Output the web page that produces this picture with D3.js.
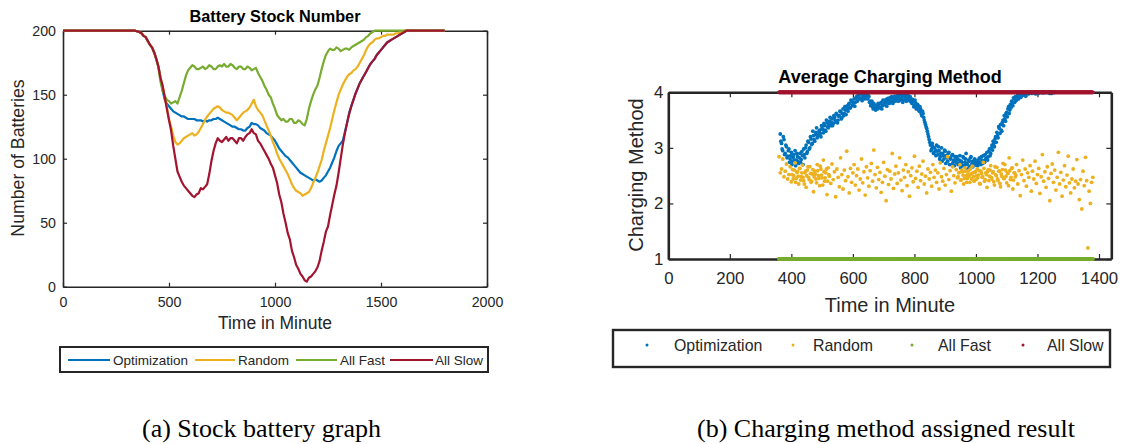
<!DOCTYPE html>
<html><head><meta charset="utf-8">
<script src="https://cdn.jsdelivr.net/npm/d3@7"></script>
<style>
body{margin:0;background:#fff}
svg{display:block}
</style>
</head><body>
<svg id="c" width="1138" height="444"></svg>
<script>
// ---------- (a) Battery stock data ----------
const stockTime = [0,340,
360,370,380,390,400,410,420,430,440,450,
460,470,480,490,500,510,520,530,540,550,
560,570,580,590,600,610,620,630,640,650,
660,670,680,690,700,710,720,730,740,750,
760,770,780,790,800,810,820,830,840,850,
860,870,880,890,900,910,920,930,940,950,
960,970,980,990,1000,1010,1020,1030,1040,1050,
1060,1070,1080,1090,1100,1110,1120,1130,1140,1150,
1160,1170,1180,1190,1200,1210,1220,1230,1240,1250,
1260,1270,1280,1290,1300,1310,1320,1330,1340,1350,
1360,1370,1380,1390,1400,1410,1420,1430,1440,1450,
1460,1470,1480,1490,1500,1510,1520,1530,1540,1550,
1560,1570,1580,1590,1600,1610,1620,1630,1640,
1800];
const stockOptimization = [200,200,
199,198,196,195,192,189,187,183,178,172,
163,153,146,143,141,139,137,136,135,134,
133,133,132,131,131,131,131,130,130,130,
129,130,129,130,130,131,131,132,131,130,
129,128,127,126,125,125,124,123,123,122,
122,124,125,128,127,127,126,124,123,122,
120,119,118,116,114,111,108,106,104,102,
101,99,97,95,93,91,89,88,87,86,
85,84,83,84,83,82,83,85,87,90,
93,97,101,106,110,112,114,121,128,136,
141,146,151,155,159,162,165,168,171,174,
176,178,181,183,185,187,189,191,192,193,
194,195,196,197,198,199,200,200,200,
200];
const stockRandom = [200,200,
199,198,196,195,192,189,187,183,178,172,
163,157,148,140,131,125,118,113,111,112,
114,116,117,118,119,120,118,119,121,124,
127,130,133,135,137,139,140,141,140,138,
137,136,136,135,134,132,130,132,134,136,
137,138,140,143,146,141,138,136,134,130,
126,122,118,113,109,104,100,97,94,91,
88,84,80,77,75,74,73,71,72,73,
74,77,81,85,89,94,99,106,112,118,
124,131,138,144,150,154,158,161,164,166,
167,169,170,172,175,178,181,185,188,190,
191,193,194,194,195,196,196,197,197,197,
197,198,198,199,199,200,200,200,200,
200];
const stockAllFast = [200,200,
199,198,196,195,192,189,187,183,178,171,
160,153,149,146,145,143,144,145,143,148,
153,159,165,169,171,173,172,170,170,171,
172,170,171,173,172,170,170,172,173,172,
174,172,172,174,173,171,170,172,172,170,
170,172,171,169,170,171,167,164,161,157,
154,150,148,143,139,134,132,130,131,129,
129,131,131,128,128,130,129,127,126,131,
139,145,150,154,157,163,170,176,181,184,
186,185,185,187,186,184,185,186,186,185,
187,188,189,190,191,192,193,195,196,198,
199,200,200,200,200,200,200,200,200,200,
200,200,200,200,200,200,200,200,200,
200];
const stockAllSlow = [200,200,
199,198,196,195,192,189,187,183,178,172,
163,157,148,139,130,122,110,100,90,86,
82,79,77,75,73,71,70,72,73,77,
76,78,80,88,98,106,112,116,114,113,
115,117,114,116,116,114,112,116,116,114,
117,119,120,123,120,119,114,112,109,106,
103,100,96,93,87,81,72,66,57,50,
42,37,28,23,17,14,10,8,5,4,
7,8,10,12,15,20,28,35,43,47,
56,64,72,79,89,100,111,120,128,135,
141,146,151,155,159,162,165,168,171,174,
176,178,181,183,185,187,189,191,192,193,
194,195,196,197,198,199,200,200,200,
200];
const stockXTicks = [0,500,1000,1500,2000];
const stockYTicks = [0,50,100,150,200];

// ---------- (b) Charging method data ----------
const seriesNames = ["Optimization","Random","All Fast","All Slow"];
const seriesColors = ["#0072BD","#EDB120","#77AC30","#A2142F"];
const optStart = 364, optStep = 4;
const methodOptimization = [
3.25,3.08,2.95,3.15,2.90,3.02,2.85,2.98,2.80,2.92,2.76,2.88,2.95,2.78,2.84,2.72,
2.90,2.79,2.86,2.98,2.82,3.05,2.93,3.10,3.00,3.16,3.08,3.22,3.12,3.28,3.18,3.24,
3.32,3.20,3.35,3.27,3.40,3.30,3.45,3.36,3.48,3.40,3.52,3.44,3.55,3.47,3.60,3.50,
3.58,3.65,3.54,3.70,3.62,3.68,3.75,3.66,3.80,3.72,3.84,3.78,3.88,3.82,3.92,3.86,
3.95,3.88,3.97,3.91,3.99,3.93,3.96,3.88,3.92,3.84,3.78,3.74,3.80,3.72,3.76,3.70,
3.78,3.73,3.82,3.76,3.85,3.79,3.87,3.81,3.84,3.90,3.82,3.88,3.85,3.93,3.86,3.91,
3.84,3.95,3.88,3.92,3.86,3.96,3.90,3.87,3.93,3.85,3.89,3.80,3.84,3.76,3.81,3.72,
3.76,3.66,3.70,3.58,3.62,3.50,3.42,3.35,3.25,3.15,3.05,2.98,3.02,2.92,2.96,3.05,
2.88,2.95,2.84,3.00,2.90,2.80,2.94,2.86,2.76,2.92,2.82,2.70,2.88,2.78,2.84,2.74,
2.80,2.72,2.86,2.76,2.68,2.82,2.74,2.90,2.70,2.78,2.66,2.84,2.75,2.72,2.80,2.69,
2.77,2.73,2.82,2.70,2.78,2.86,2.74,2.80,2.92,2.84,2.98,2.90,3.05,3.12,3.02,3.20,
3.28,3.18,3.35,3.42,3.30,3.50,3.58,3.48,3.64,3.70,3.62,3.78,3.84,3.76,3.88,3.92,
3.86,3.95,3.90,3.98,3.94,3.97,4.00,3.96,3.99,4.00,3.98,4.00,4.00,3.99,4.00,4.00,
4.00,4.00,3.99,4.00,4.00,4.00,4.00,4.00,4.00,4.00,4.00,3.98,4.00,4.00,4.00,4.00];
const opt2Start = 366, opt2Step = 4;
const methodOptimization2 = [
3.12,2.98,3.20,2.88,3.05,2.82,2.95,2.74,2.86,2.70,2.83,2.78,2.68,2.90,2.75,2.82,
2.74,2.93,2.70,2.88,3.00,2.90,3.12,2.98,3.20,3.06,3.30,3.15,3.24,3.36,3.22,3.30,
3.26,3.40,3.33,3.44,3.32,3.50,3.38,3.42,3.55,3.46,3.40,3.58,3.50,3.62,3.45,3.57,
3.66,3.52,3.62,3.58,3.74,3.60,3.70,3.78,3.72,3.86,3.76,3.82,3.75,3.90,3.84,3.96,
3.90,4.00,3.85,3.94,3.88,3.98,3.90,3.94,3.82,3.76,3.84,3.70,3.77,3.68,3.74,3.80,
3.72,3.80,3.70,3.86,3.78,3.82,3.75,3.89,3.80,3.86,3.92,3.80,3.90,3.84,3.88,3.95,
3.90,3.86,3.97,3.82,3.94,3.89,3.84,3.95,3.88,3.92,3.82,3.87,3.74,3.86,3.70,3.78,
3.68,3.74,3.62,3.66,3.55,3.46,3.38,3.30,3.20,3.10,2.95,3.08,2.90,3.00,2.86,2.94,
3.02,2.80,2.90,2.76,2.86,2.96,2.72,2.82,2.90,2.70,2.80,2.86,2.74,2.68,2.78,2.84,
2.70,2.78,2.64,2.74,2.84,2.68,2.80,2.72,2.62,2.76,2.82,2.70,2.66,2.78,2.72,2.76,
2.68,2.80,2.74,2.84,2.72,2.76,2.88,2.82,2.78,2.94,2.86,3.00,2.96,3.08,3.16,3.10,
3.22,3.38,3.26,3.32,3.46,3.40,3.52,3.62,3.56,3.74,3.68,3.72,3.80,3.90,3.82,3.86,
3.93,3.88,3.96,3.91,4.00,3.95,3.98,3.93,4.00,3.97,4.00,3.99,3.98,4.00,4.00,3.97,
4.00,3.98,4.00,4.00,4.00,3.99,4.00,4.00,4.00,4.00,4.00,4.00,3.98,4.00,4.00,4.00];
const rndStart = 360, rndStep = 4;
const methodRandom = [
2.84,2.55,2.62,2.80,2.48,2.58,2.71,2.44,2.52,2.66,2.39,2.61,2.50,2.73,2.45,2.57,
2.35,2.63,2.48,2.69,2.41,2.55,2.29,2.60,2.47,2.66,2.38,2.53,2.21,2.58,2.44,2.70,
2.50,2.32,2.62,2.46,2.78,2.40,2.55,2.16,2.64,2.49,2.36,2.71,2.43,2.57,2.12,2.62,
2.47,2.30,2.82,2.52,2.26,2.60,2.41,2.94,2.48,2.19,2.63,2.38,2.55,2.70,2.33,2.50,
2.62,2.24,2.44,2.80,2.37,2.57,2.15,2.66,2.46,2.31,2.59,2.72,2.40,2.96,2.52,2.28,
2.65,2.43,2.56,2.20,2.38,2.74,2.49,2.05,2.61,2.34,2.58,2.44,2.90,2.27,2.53,2.67,
2.36,2.55,2.82,2.42,2.23,2.60,2.47,2.70,2.32,2.57,2.13,2.50,2.64,2.39,2.85,2.45,
2.58,2.29,2.67,2.41,2.53,2.76,2.35,2.49,2.19,2.62,2.44,2.56,2.31,2.70,2.47,2.60,
2.38,2.55,2.26,2.73,2.48,2.40,2.63,2.33,2.52,2.84,2.43,2.59,2.22,2.66,2.50,2.37,
2.61,2.46,2.55,2.70,2.42,2.57,2.35,2.64,2.50,2.45,2.59,2.38,2.53,2.67,2.48,2.56,
2.43,2.62,2.51,2.36,2.58,2.47,2.74,2.40,2.55,2.29,2.61,2.49,2.68,2.44,2.57,2.33,
2.52,2.65,2.41,2.58,2.30,2.49,2.72,2.45,2.60,2.37,2.54,2.82,2.43,2.63,2.26,2.55,
2.48,2.70,2.35,2.59,2.14,2.52,2.78,2.41,2.62,2.31,2.55,2.47,2.68,2.22,2.58,2.44,
2.76,2.36,2.52,2.63,2.18,2.48,2.88,2.40,2.57,2.29,2.66,2.45,2.05,2.54,2.71,2.38,
2.60,2.24,2.47,2.92,2.35,2.56,2.13,2.42,2.68,2.30,2.51,2.85,2.37,2.19,2.44,2.62,
2.28,2.40,2.79,2.35,2.07,2.43,1.90,2.58,2.32,2.83,2.41,1.20,2.22,2.00,2.38,2.47];
const rndExtraAStart = 402, rndExtraAStep = 4;
const methodRandomExtraA = [2.52,2.44,2.60,2.38,2.56,2.49,2.63,2.42,2.55,2.47,2.35,2.58,2.50,2.66,2.43,2.54,2.40,2.61,2.48,2.53,2.37,2.59,2.45,2.67,2.51,2.33,2.57,2.46,2.62,2.40,2.52];
const rndExtraBStart = 942, rndExtraBStep = 4;
const methodRandomExtraB = [2.48,2.56,2.42,2.60,2.51,2.45,2.58,2.38,2.53,2.49,2.62,2.44,2.55,2.40,2.57,2.50,2.46,2.59,2.35,2.54,2.48,2.63,2.43,2.52,2.57,2.41,2.60,2.47,2.55,2.39,2.66,2.50,2.44,2.58,2.36,2.53,2.61,2.45,2.70,2.49,2.56,2.32,2.59,2.47,2.64,2.42,2.55,2.51];
// constant series over the active window, one point per minute
const constantWindow = [360, 1380];
const methodAllFast = 1;
const methodAllSlow = 4;
const methodXTicks = [0,200,400,600,800,1000,1200,1400];
const methodYTicks = [1,2,3,4];

const AX = "#262626";
const SANS = "'Liberation Sans',Arial,sans-serif";
const SERIF = "'Liberation Serif','Times New Roman',serif";
const svg = d3.select("#c");
svg.append("rect").attr("width",1138).attr("height",444).attr("fill","#fff");

function boxAxes(g, x, y, xt, yt, o) {
  const [x0,x1] = x.range(), [y0,y1] = y.range();
  const fmt = d3.format("d");
  const st = sel => {
    sel.attr("font-family",null).attr("font-size",null);
    sel.select(".domain").attr("stroke",AX).attr("stroke-width",o.bw);
    sel.selectAll(".tick line").attr("stroke",AX).attr("stroke-width",1.2);
    sel.selectAll("text").attr("fill",AX).style("font-size",o.fs+"px").style("font-family",SANS);
  };
  g.append("g").attr("transform",`translate(0,${y0})`)
    .call(d3.axisBottom(x).tickValues(xt).tickFormat(fmt).tickSize(-o.tl).tickSizeOuter(0).tickPadding(o.xp)).call(st);
  g.append("g").attr("transform",`translate(0,${y1})`)
    .call(d3.axisTop(x).tickValues(xt).tickSize(-o.tl).tickSizeOuter(0).tickFormat("")).call(st);
  g.append("g").attr("transform",`translate(${x0},0)`)
    .call(d3.axisLeft(y).tickValues(yt).tickFormat(fmt).tickSize(-o.tl).tickSizeOuter(0).tickPadding(o.yp)).call(st);
  g.append("g").attr("transform",`translate(${x1},0)`)
    .call(d3.axisRight(y).tickValues(yt).tickSize(-o.tl).tickSizeOuter(0).tickFormat("")).call(st);
}
function txt(g, x, y, s, size, opts={}) {
  const t = g.append("text").attr("x",x).attr("y",y).text(s)
    .style("font-family",opts.font||SANS).style("font-size",size+"px")
    .attr("fill",opts.fill||AX).attr("text-anchor",opts.anchor||"start");
  if (opts.bold) t.style("font-weight","bold");
  if (opts.rot) t.attr("transform",`rotate(-90,${x},${y})`);
  return t;
}

// ================= (a) =================
const xL = d3.scaleLinear().domain([0,2000]).range([63,487]);
const yL = d3.scaleLinear().domain([0,200]).range([286.7,30.7]);
const gA = svg.append("g");
boxAxes(gA, xL, yL, stockXTicks, stockYTicks, {bw:1.6, fs:14.2, tl:4, xp:10, yp:7});

const stockSeries = [stockOptimization, stockRandom, stockAllFast, stockAllSlow];
const lineA = d3.line().x((d,i)=>xL(stockTime[i])).y(d=>yL(d));
stockSeries.forEach((s,k)=>{
  gA.append("path").attr("d",lineA(s)).attr("fill","none")
    .attr("stroke",seriesColors[k]).attr("stroke-width",2.2).attr("stroke-linejoin","round");
});
txt(gA, 275, 22, "Battery Stock Number", 16.3, {anchor:"middle", bold:true, fill:"#000"});
txt(gA, 275, 329, "Time in Minute", 17.5, {anchor:"middle"});
txt(gA, 24, 158, "Number of Batteries", 17.7, {anchor:"middle", rot:true});

// legend (a)
gA.append("rect").attr("x",60).attr("y",347).attr("width",428).attr("height",25)
  .attr("fill","#fff").attr("stroke",AX).attr("stroke-width",2);
const legA = [[68,110,113],[195,235,238],[296,337,340],[390,433,435]];
legA.forEach((p,k)=>{
  gA.append("line").attr("x1",p[0]).attr("x2",p[1]).attr("y1",360).attr("y2",360)
    .attr("stroke",seriesColors[k]).attr("stroke-width",2);
  txt(gA, p[2], 365, seriesNames[k], 13.5);
});

// ================= (b) =================
const xR = d3.scaleLinear().domain([0,1440]).range([668.3,1111.3]);
const yR = d3.scaleLinear().domain([1,4]).range([259,92.3]);
const gB = svg.append("g");
boxAxes(gB, xR, yR, methodXTicks, methodYTicks, {bw:2.6, fs:16.8, tl:5, xp:13, yp:5});

const dot = (t,v,c) => gB.append("circle").attr("cx",xR(t)).attr("cy",yR(v)).attr("r",1.9).attr("fill",c);
methodOptimization.forEach((v,i)=>dot(optStart+i*optStep, v, seriesColors[0]));
methodOptimization2.forEach((v,i)=>dot(opt2Start+i*opt2Step, v, seriesColors[0]));
methodRandom.forEach((v,i)=>dot(rndStart+i*rndStep, v, seriesColors[1]));
methodRandomExtraA.forEach((v,i)=>dot(rndExtraAStart+i*rndExtraAStep, v, seriesColors[1]));
methodRandomExtraB.forEach((v,i)=>dot(rndExtraBStart+i*rndExtraBStep, v, seriesColors[1]));
const minutes = d3.range(constantWindow[0], constantWindow[1]+1);
minutes.forEach(t=>dot(t, methodAllFast, seriesColors[2]));
minutes.forEach(t=>dot(t, methodAllSlow, seriesColors[3]));

txt(gB, 890, 83, "Average Charging Method", 18, {anchor:"middle", bold:true, fill:"#000"});
txt(gB, 890, 312, "Time in Minute", 20, {anchor:"middle"});
txt(gB, 643, 175, "Charging Method", 20, {anchor:"middle", rot:true});

// legend (b)
gB.append("rect").attr("x",613).attr("y",330).attr("width",497).attr("height",37)
  .attr("fill","#fff").attr("stroke",AX).attr("stroke-width",2.4);
const legB = [[647,674],[793,813],[912,938],[1023,1047]];
legB.forEach((p,k)=>{
  gB.append("circle").attr("cx",p[0]).attr("cy",345).attr("r",1.5).attr("fill",seriesColors[k]);
  txt(gB, p[1], 351, seriesNames[k], 15.9);
});

// captions
txt(svg, 142, 437, "(a) Stock battery graph", 26, {font:SERIF, fill:"#000"});
txt(svg, 697, 437, "(b) Charging method assigned result", 26, {font:SERIF, fill:"#000"});
</script>
</body></html>
